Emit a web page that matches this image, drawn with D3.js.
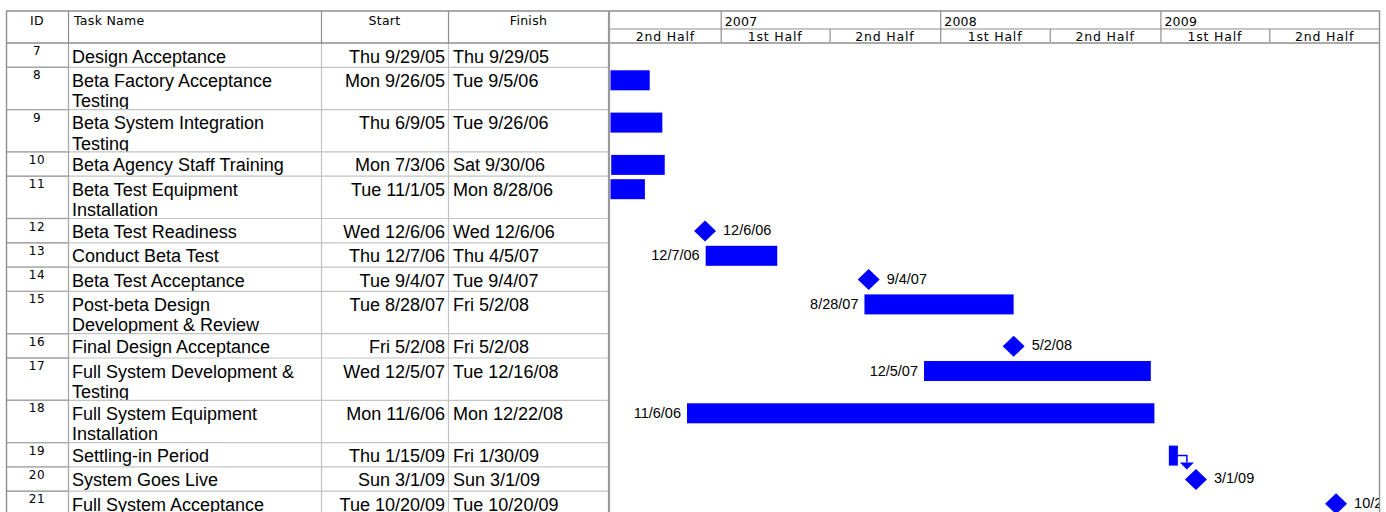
<!DOCTYPE html>
<html><head><meta charset="utf-8">
<script src="https://cdn.jsdelivr.net/npm/d3@7"></script>
<style>body{margin:0;background:#fff;overflow:hidden} svg{display:block}</style>
</head><body>
<script>
// ---------------- data ----------------
const ids = [7, 8, 9, 10, 11, 12, 13, 14, 15, 16, 17, 18, 19, 20, 21];
const taskNames = [
  "Design Acceptance",
  "Beta Factory Acceptance\nTesting",
  "Beta System Integration\nTesting",
  "Beta Agency Staff Training",
  "Beta Test Equipment\nInstallation",
  "Beta Test Readiness",
  "Conduct Beta Test",
  "Beta Test Acceptance",
  "Post-beta Design\nDevelopment & Review",
  "Final Design Acceptance",
  "Full System Development &\nTesting",
  "Full System Equipment\nInstallation",
  "Settling-in Period",
  "System Goes Live",
  "Full System Acceptance"
];
const startDates = ["Thu 9/29/05","Mon 9/26/05","Thu 6/9/05","Mon 7/3/06","Tue 11/1/05","Wed 12/6/06","Thu 12/7/06","Tue 9/4/07","Tue 8/28/07","Fri 5/2/08","Wed 12/5/07","Mon 11/6/06","Thu 1/15/09","Sun 3/1/09","Tue 10/20/09"];
const finishDates = ["Thu 9/29/05","Tue 9/5/06","Tue 9/26/06","Sat 9/30/06","Mon 8/28/06","Wed 12/6/06","Thu 4/5/07","Tue 9/4/07","Fri 5/2/08","Fri 5/2/08","Tue 12/16/08","Mon 12/22/08","Fri 1/30/09","Sun 3/1/09","Tue 10/20/09"];
const showDateLabel = [true,true,true,true,true,true,true,true,true,true,true,true,false,true,true];
const links = [[19, 20]];
const columnHeaders = ["ID", "Task Name", "Start", "Finish"];
const halfLabels = ["1st Half", "2nd Half"];
const timescaleRange = ["7/1/06", "1/1/10"];

// ---------------- helpers ----------------
function parseDate(s) {
  const p = s.split(" ").pop().split("/");
  return new Date(2000 + +p[2], +p[0] - 1, +p[1]);
}
function shortDate(d) {
  return (d.getMonth() + 1) + "/" + d.getDate() + "/" + String(d.getFullYear() % 100).padStart(2, "0");
}

const W = 1386, H = 512;
const L = 6, R = 1380, TOP = 11, TIER = 29, HB = 43;
const colX = [6, 68, 321, 448, 609];
const chartL = 610;
const singleH = 24.3, doubleH = 42.3;

const tasks = ids.map((id, i) => ({
  id, name: taskNames[i], lines: taskNames[i].split("\n"),
  startStr: startDates[i], finishStr: finishDates[i],
  start: parseDate(startDates[i]), finish: parseDate(finishDates[i]),
  label: showDateLabel[i]
}));
tasks.forEach(t => { t.milestone = +t.start === +t.finish; t.h = t.lines.length > 1 ? doubleH : singleH; });
let acc = HB;
const tops = tasks.map(t => { const v = acc; acc += t.h; return v; });
const yTop = d3.scaleOrdinal().domain(ids).range(tops);
const byId = new Map(tasks.map(t => [t.id, t]));

const x = d3.scaleTime()
  .domain([parseDate(timescaleRange[0]), parseDate(timescaleRange[1])])
  .range([chartL, R]);

const svg = d3.select("body").append("svg").attr("width", W).attr("height", H);
const defs = svg.append("defs");

const headerColor = "#8e8e8e", gridColor = "#c4c4c4", idGrid = "#a8a8a8";
const smallFont = "'DejaVu Sans', Verdana, sans-serif";
const bodyFont = "'Liberation Sans', Arial, sans-serif";

// ---------------- table body ----------------
const rows = svg.append("g").selectAll("g.row").data(tasks).join("g").attr("class", "row");
rows.each(function (t, i) {
  const g = d3.select(this);
  const top = yTop(t.id);
  defs.append("clipPath").attr("id", "rc" + i).append("rect")
    .attr("x", L).attr("y", top).attr("width", colX[4] - L).attr("height", t.h);
  const tg = g.append("g").attr("clip-path", `url(#rc${i})`);
  tg.append("text").attr("x", (colX[0] + colX[1]) / 2).attr("y", top + 12)
    .attr("text-anchor", "middle").attr("font-family", smallFont).attr("font-size", 12)
    .attr("letter-spacing", 0.6).text(t.id);
  tg.append("text").attr("font-family", bodyFont).attr("font-size", 18)
    .selectAll("tspan").data(t.lines).join("tspan")
    .attr("x", 72).attr("y", (d, k) => top + 19.5 + k * 20.5).text(d => d);
  tg.append("text").attr("x", colX[3] - 3).attr("y", top + 19.5).attr("text-anchor", "end")
    .attr("font-family", bodyFont).attr("font-size", 18).text(t.startStr);
  tg.append("text").attr("x", colX[3] + 5).attr("y", top + 19.5)
    .attr("font-family", bodyFont).attr("font-size", 18).text(t.finishStr);
  g.append("line").attr("x1", L).attr("x2", colX[4]).attr("y1", top + t.h).attr("y2", top + t.h)
    .attr("stroke", gridColor).attr("stroke-width", 1.2);
  g.append("line").attr("x1", L).attr("x2", colX[1]).attr("y1", top + t.h).attr("y2", top + t.h)
    .attr("stroke", idGrid).attr("stroke-width", 1.4);
});
svg.append("g").selectAll("line").data([colX[1], colX[2], colX[3]]).join("line")
  .attr("x1", d => d + 0.5).attr("x2", d => d + 0.5).attr("y1", HB).attr("y2", H)
  .attr("stroke", gridColor).attr("stroke-width", 1.2);
svg.append("line").attr("x1", colX[1] + 0.5).attr("x2", colX[1] + 0.5).attr("y1", HB).attr("y2", H)
  .attr("stroke", idGrid).attr("stroke-width", 1.2);

// ---------------- table header ----------------
const hdr = svg.append("g");
hdr.selectAll("text").data(columnHeaders).join("text")
  .attr("x", (d, i) => i === 1 ? colX[1] + 6 : (colX[i] + colX[i + 1]) / 2)
  .attr("y", 25)
  .attr("text-anchor", (d, i) => i === 1 ? "start" : "middle")
  .attr("font-family", smallFont).attr("font-size", 12.5).attr("letter-spacing", 0.3)
  .text(d => d);
hdr.selectAll("line.v").data(colX.slice(1, 4)).join("line")
  .attr("x1", d => d + 0.5).attr("x2", d => d + 0.5).attr("y1", TOP).attr("y2", HB)
  .attr("stroke", headerColor).attr("stroke-width", 1.2);

// ---------------- timescale ----------------
const years = d3.timeYear.range(d3.timeYear.ceil(x.domain()[0]), x.domain()[1]);
const halves = d3.timeMonth.every(6).range(x.domain()[0], x.domain()[1]);
const ts = svg.append("g");
const yearAxis = d3.axisTop(x).tickValues(years).tickSize(TIER - TOP).tickFormat("");
const halfAxis = d3.axisTop(x).tickValues(halves.filter(h => x(h) > chartL + 1)).tickSize(HB - TIER - 1).tickFormat("");
ts.append("g").attr("transform", `translate(0,${TIER})`).call(yearAxis)
  .call(g => g.select(".domain").remove())
  .call(g => g.selectAll(".tick line").attr("stroke", headerColor).attr("stroke-width", 1.2));
ts.append("g").attr("transform", `translate(0,${HB - 1})`).call(halfAxis)
  .call(g => g.select(".domain").remove())
  .call(g => g.selectAll(".tick line").attr("stroke", headerColor).attr("stroke-width", 1.2));
ts.selectAll("text.year").data(years).join("text").attr("class", "year")
  .attr("x", d => x(d) + 4).attr("y", 25.5)
  .attr("font-family", smallFont).attr("font-size", 12.5).attr("letter-spacing", 0.2)
  .text(d => d.getFullYear());
ts.selectAll("text.half").data(halves).join("text").attr("class", "half")
  .attr("x", d => (x(d) + x(d3.timeMonth.offset(d, 6))) / 2).attr("y", 41)
  .attr("text-anchor", "middle").attr("font-family", smallFont).attr("font-size", 12.5)
  .attr("letter-spacing", 0.8)
  .text(d => halfLabels[d.getMonth() < 6 ? 0 : 1]);
svg.append("line").attr("x1", chartL).attr("x2", R).attr("y1", TIER).attr("y2", TIER)
  .attr("stroke", headerColor).attr("stroke-width", 1.2);

// ---------------- frame ----------------
svg.append("line").attr("x1", L).attr("x2", R).attr("y1", TOP).attr("y2", TOP)
  .attr("stroke", headerColor).attr("stroke-width", 1.4);
svg.append("line").attr("x1", L).attr("x2", R).attr("y1", HB).attr("y2", HB)
  .attr("stroke", headerColor).attr("stroke-width", 1.4);
svg.append("line").attr("x1", L + 0.5).attr("x2", L + 0.5).attr("y1", TOP).attr("y2", H)
  .attr("stroke", headerColor).attr("stroke-width", 1.4);
svg.append("line").attr("x1", R - 0.5).attr("x2", R - 0.5).attr("y1", TOP).attr("y2", H)
  .attr("stroke", headerColor).attr("stroke-width", 1.4);
svg.append("line").attr("x1", chartL - 1).attr("x2", chartL - 1).attr("y1", TOP).attr("y2", H)
  .attr("stroke", "#9a9a9a").attr("stroke-width", 2.2);

// ---------------- gantt ----------------
defs.append("clipPath").attr("id", "chartClip").append("rect")
  .attr("x", chartL + 0.5).attr("y", HB + 1).attr("width", R - chartL - 1.5).attr("height", H - HB);
const gantt = svg.append("g").attr("clip-path", "url(#chartClip)");
const blue = "#0000ff";
const labFont = 14.5;

const bars = tasks.filter(t => !t.milestone);
gantt.selectAll("rect.bar").data(bars).join("rect").attr("class", "bar")
  .attr("x", t => x(t.start)).attr("y", t => yTop(t.id) + 3)
  .attr("width", t => x(t.finish) - x(t.start)).attr("height", 20)
  .attr("fill", blue);
gantt.selectAll("text.blab").data(bars.filter(t => t.label)).join("text").attr("class", "blab")
  .attr("x", t => x(t.start) - 6).attr("y", t => yTop(t.id) + 17.5)
  .attr("text-anchor", "end").attr("font-family", bodyFont).attr("font-size", labFont)
  .text(t => shortDate(t.start));

const ms = tasks.filter(t => t.milestone);
gantt.selectAll("path.ms").data(ms).join("path").attr("class", "ms")
  .attr("transform", t => `translate(${x(t.start)},${yTop(t.id) + 12.5})`)
  .attr("d", "M0,-10.5L11,0L0,10.5L-11,0Z").attr("fill", blue);
gantt.selectAll("text.mlab").data(ms.filter(t => t.label)).join("text").attr("class", "mlab")
  .attr("x", t => x(t.start) + 18).attr("y", t => yTop(t.id) + 16.5)
  .attr("font-family", bodyFont).attr("font-size", labFont)
  .text(t => shortDate(t.start));

links.forEach(([a, b]) => {
  const pa = byId.get(a), pb = byId.get(b);
  const xa = x(pa.finish), ya = yTop(pa.id) + 13;
  const xt = xa + 9, tipY = yTop(pb.id) + 2.5;
  gantt.append("path").attr("d", `M${xa},${ya}H${xt}V${tipY - 7}`)
    .attr("fill", "none").attr("stroke", blue).attr("stroke-width", 1.5);
  gantt.append("path").attr("d", `M${xt - 7},${tipY - 7}H${xt + 7}L${xt},${tipY}Z`).attr("fill", blue);
});
</script>
</body></html>
